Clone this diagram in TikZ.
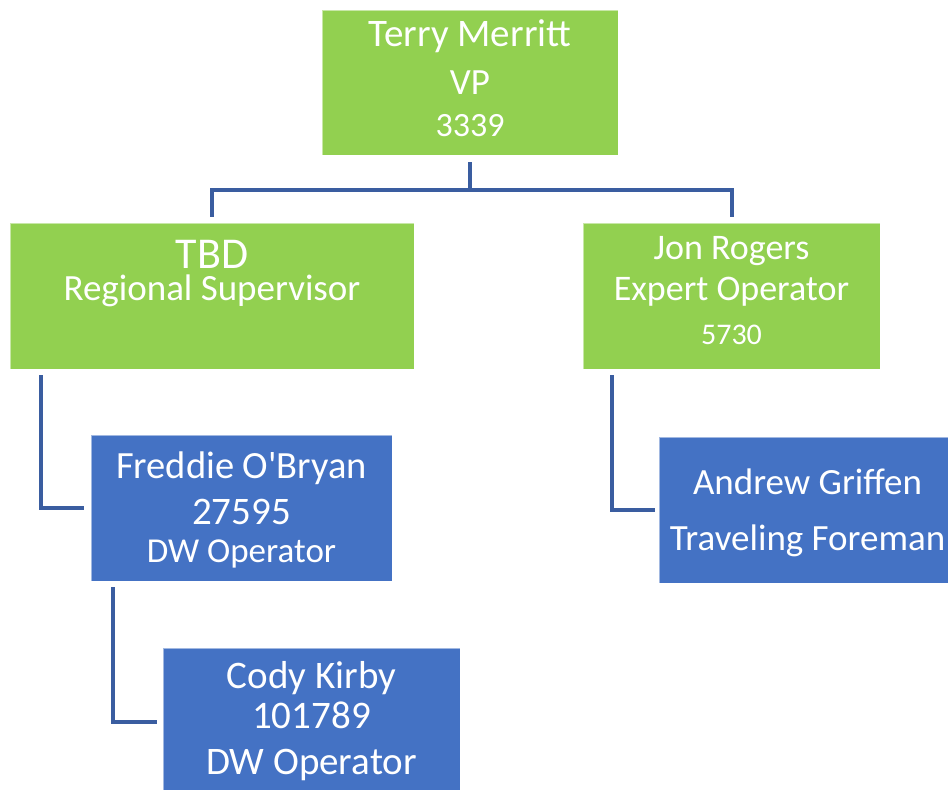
\documentclass[tikz,border=0pt]{standalone}
\usepackage{fontspec}
\setmainfont{Carlito}
\definecolor{boxgreen}{HTML}{92D050}
\definecolor{boxblue}{HTML}{4472C4}
\definecolor{linkblue}{HTML}{3A5DA0}

\begin{document}
\begin{tikzpicture}[x=1pt,y=-1pt,
		box/.style={minimum height=146, inner sep=0pt, align=center, text=white, draw=white, draw opacity=0.5, line width=0.8pt},
		greenbox/.style={box, fill=boxgreen},
		bluebox/.style={box, fill=boxblue},
		link/.style={draw=linkblue, line width=4pt}]
		\useasboundingbox (0,0) rectangle (948,790);
		
		\node[greenbox, minimum width=296, minimum height=145, text depth=9pt, font=\fontsize{39}{42}\selectfont] (vp) at (470,82.5)
			{Terry Merritt\\[6pt]{\fontsize{37}{42}\selectfont VP}\\{\fontsize{34}{42}\selectfont 3339}};
		\node[greenbox, minimum width=404, text depth=52pt, font=\fontsize{37}{32}\selectfont] (tbd) at (212,296)
			{{\fontsize{44}{32}\selectfont TBD}\\Regional Supervisor};
		\node[greenbox, minimum width=297, text depth=11pt, font=\fontsize{36}{40}\selectfont] (jon) at (731.5,296)
			{Jon Rogers\\[1pt]Expert Operator\\[4pt]{\fontsize{30}{40}\selectfont 5730}};
		
		\node[bluebox, minimum width=301, text depth=1pt, font=\fontsize{38.5}{38}\selectfont] (fred) at (241.5,508)
			{Freddie O\textquotesingle Bryan\\[8pt]{\fontsize{39}{38}\selectfont 27595}\\{\fontsize{35}{38}\selectfont DW Operator}};
		\node[bluebox, minimum width=297, text depth=1.5pt, font=\fontsize{37}{56}\selectfont] (andrew) at (807.5,510)
			{Andrew Griffen\\Traveling Foreman};
		\node[bluebox, minimum width=297, minimum height=147, font=\fontsize{39}{40}\selectfont] (cody) at (311.5,721.5)
			{Cody Kirby\\101789\\[6pt]DW Operator};
		
		% connectors
		\coordinate (bus) at (470,190);
		\draw[link] ([yshift=-7pt]vp.south) -- (bus);
		\draw[link] ([yshift=6pt]tbd.north) |- (bus) -| ([yshift=6pt]jon.north);
		\draw[link] ([shift={(31pt,-6pt)}]tbd.south west) |- ([xshift=-7pt]fred.west);
		\draw[link] ([shift={(29pt,-6pt)}]jon.south west) |- ([xshift=-4pt]andrew.west);
		\draw[link] ([shift={(22pt,-6pt)}]fred.south west) |- ([xshift=-6pt]cody.west);
	\end{tikzpicture}
\end{document}
